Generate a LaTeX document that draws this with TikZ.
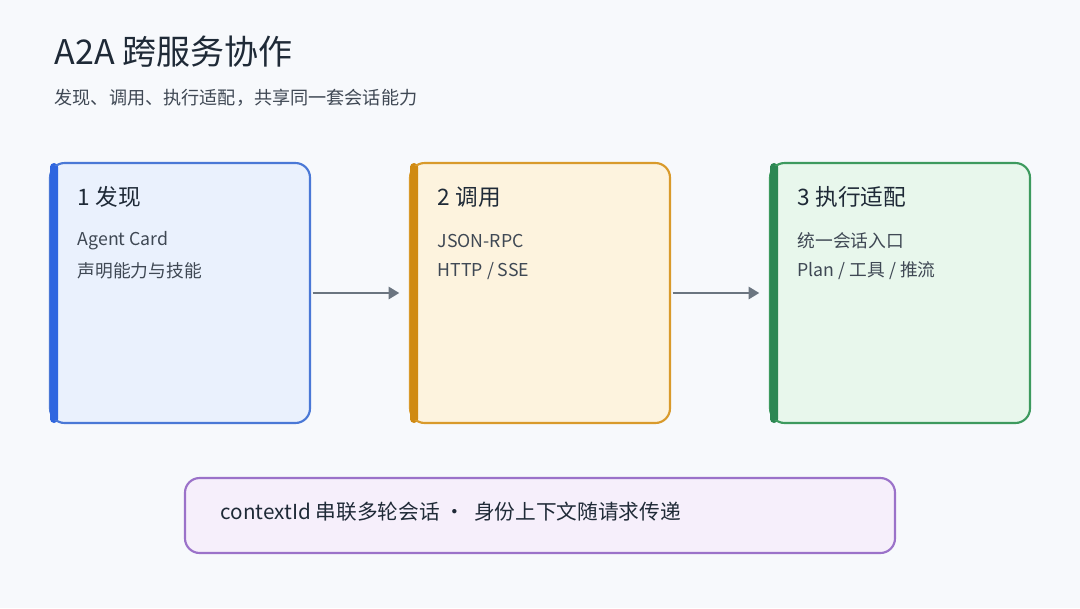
\documentclass[tikz,border=0pt]{standalone}
\usepackage{fontspec}
\setmainfont{Noto Sans CJK SC}
\usetikzlibrary{arrows.meta}
\definecolor{bg}{HTML}{F7F9FC}
\definecolor{ink}{HTML}{1F2A37}
\definecolor{sub}{HTML}{3F4854}
\definecolor{blueB}{HTML}{4A78D6}\definecolor{blueF}{HTML}{EAF1FD}\definecolor{blueS}{HTML}{2F66E0}
\definecolor{orB}{HTML}{D99A2B}\definecolor{orF}{HTML}{FDF3DE}\definecolor{orS}{HTML}{D08A12}
\definecolor{grB}{HTML}{3D9A5E}\definecolor{grF}{HTML}{E8F7EC}\definecolor{grS}{HTML}{2C8753}
\definecolor{puB}{HTML}{9B72C9}\definecolor{puF}{HTML}{F6EFFB}
\definecolor{arr}{HTML}{6B7580}
\begin{document}
\begin{tikzpicture}[x=0.75pt,y=-0.75pt,
  card/.style={draw=#1,line width=1.6pt,rounded corners=11pt},
  ttl/.style={anchor=west,text=ink,font=\fontsize{17}{20}\selectfont},
  ln/.style={anchor=west,text=sub,font=\fontsize{13.3}{16}\selectfont},
  conn/.style={draw=arr,line width=2.2pt,-{Triangle[length=8pt,width=9pt]}}]
\fill[bg] (0,0) rectangle (1080,608);
\useasboundingbox (0,0) rectangle (1080,608);
\node[anchor=west,text=ink,font=\fontsize{25.5}{30}\selectfont] (title) at (50,52) {A2A 跨服务协作};
\node[anchor=west,text=sub,font=\fontsize{13.6}{16}\selectfont] (subt) at (50,98) {发现、调用、执行适配，共享同一套会话能力};
% cards
\foreach \n/\x/\B/\F/\S in {a/50/blueB/blueF/blueS, b/410/orB/orF/orS, c/770/grB/grF/grS}{
  \fill[\F,rounded corners=11pt] (\x,163) rectangle (\x+260,423);
  \fill[\S,rounded corners=3pt] (\x,163) rectangle (\x+8,423);
  \draw[card=\B] (\x,163) rectangle (\x+260,423);
  \fill[\S] (\x,166) rectangle (\x+8,420);
  \coordinate (\n w) at (\x,293);
  \coordinate (\n e) at (\x+260,293);
}
\node[ttl] (t1) at (73,197) {1 发现};
\node[ln] (l11) at (73,241) {Agent Card};
\node[ln] (l12) at (73,271) {声明能力与技能};
\node[ttl] (t2) at (433,197) {2 调用};
\node[ln] (l21) at (433,241) {JSON-RPC};
\node[ln] (l22) at (433,271) {HTTP / SSE};
\node[ttl] (t3) at (793,197) {3 执行适配};
\node[ln] (l31) at (793,241) {统一会话入口};
\node[ln] (l32) at (793,271) {Plan / 工具 / 推流};
\draw[conn] ([xshift=2pt]ae) -- ([xshift=-8pt]bw);
\draw[conn] ([xshift=2pt]be) -- ([xshift=-8pt]cw);
% bottom
\draw[draw=puB,fill=puF,line width=1.6pt,rounded corners=11pt] (185,478) rectangle (895,553);
\node[anchor=west,text=ink,font=\fontsize{15.5}{18}\selectfont] (note) at (216,512) {contextId 串联多轮会话 ·\ \ 身份上下文随请求传递};
\end{tikzpicture}
\end{document}
